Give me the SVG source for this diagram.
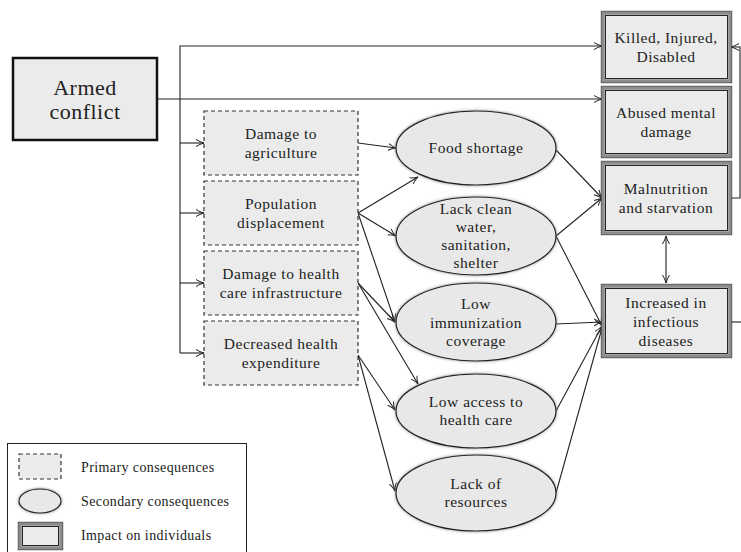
<svg xmlns="http://www.w3.org/2000/svg" width="741" height="552" viewBox="0 0 741 552" font-family="'Liberation Serif', 'DejaVu Serif', serif">
<defs>
<marker id="arr" markerUnits="userSpaceOnUse" markerWidth="10" markerHeight="10" refX="8" refY="4" orient="auto-start-reverse" viewBox="0 0 10 8">
<path d="M0,0.5 Q4,3 8,4 Q4,5 0,7.5" fill="none" stroke="#222" stroke-width="1"/>
</marker>
<filter id="shadow" x="-20%" y="-20%" width="140%" height="140%">
<feDropShadow dx="0" dy="0" stdDeviation="1.8" flood-color="#777" flood-opacity="0.9"/>
</filter>
<style>
text{font-family:"Liberation Serif","DejaVu Serif",serif;fill:#222;text-anchor:middle;font-size:15.5px;letter-spacing:0.5px}
.prim{fill:#ebebeb;stroke:#333;stroke-width:1.2;stroke-dasharray:4 3}
.sec{fill:#e8e8e8;stroke:#222;stroke-width:1.2;filter:url(#shadow)}
.imp-o{fill:#ebebeb;stroke:#8c8c8c;stroke-width:3.5}
.imp-e{fill:none;stroke:#444;stroke-width:0.8}
.imp-i{fill:none;stroke:#111;stroke-width:0.9}
.c{fill:none;stroke:#222;stroke-width:1.1}
.a{marker-end:url(#arr)}
.leg{text-anchor:start;font-size:14px;letter-spacing:0.4px}
</style>
</defs>
<rect width="741" height="552" fill="#fff"/>

<g id="connectors">
<polyline class="c a" points="180,353 180,46 602,46"/>
<polyline class="c a" points="157,99 602,99"/>
<line class="c a" x1="180" y1="143" x2="204" y2="143"/>
<line class="c a" x1="180" y1="213" x2="204" y2="213"/>
<line class="c a" x1="180" y1="283" x2="204" y2="283"/>
<line class="c a" x1="180" y1="353" x2="204" y2="353"/>
<line class="c a" x1="358" y1="143" x2="396" y2="148"/>
<line class="c a" x1="358" y1="213" x2="418" y2="177"/>
<line class="c a" x1="358" y1="213" x2="396" y2="236"/>
<line class="c a" x1="358" y1="213" x2="395" y2="322"/>
<line class="c a" x1="358" y1="283" x2="395" y2="322"/>
<line class="c a" x1="358" y1="283" x2="418" y2="384"/>
<line class="c a" x1="358" y1="355" x2="395" y2="410"/>
<line class="c a" x1="358" y1="355" x2="395" y2="491"/>
<line class="c a" x1="556" y1="150" x2="602" y2="198"/>
<line class="c a" x1="556" y1="236" x2="602" y2="198"/>
<line class="c a" x1="556" y1="236" x2="602" y2="326"/>
<line class="c a" x1="556" y1="324" x2="602" y2="322"/>
<line class="c a" x1="556" y1="411" x2="602" y2="326"/>
<line class="c a" x1="556" y1="493" x2="602" y2="328"/>
<line class="c a" x1="666" y1="236" x2="666" y2="283" marker-start="url(#arr)"/>
<polyline class="c a" points="731,198 740,198 740,47 731,47"/>
<line class="c" x1="731" y1="322" x2="741" y2="322"/>
</g>

<g id="armed">
<rect x="13" y="58" width="144" height="82" fill="#ebebeb" stroke="#111" stroke-width="2.5"/>
<text x="85" y="95" style="font-size:22px">Armed</text>
<text x="85" y="119" style="font-size:22px">conflict</text>
</g>

<g id="p1"><rect class="prim" x="204" y="111" width="154" height="64"/>
<text x="281" y="138.5">Damage to</text><text x="281" y="157.5">agriculture</text></g>
<g id="p2"><rect class="prim" x="204" y="181" width="154" height="64"/>
<text x="281" y="208.5">Population</text><text x="281" y="227.5">displacement</text></g>
<g id="p3"><rect class="prim" x="204" y="251" width="154" height="64"/>
<text x="281" y="278.5">Damage to health</text><text x="281" y="297.5">care infrastructure</text></g>
<g id="p4"><rect class="prim" x="204" y="321" width="154" height="64"/>
<text x="281" y="348.5">Decreased health</text><text x="281" y="367.5">expenditure</text></g>

<g id="s1"><ellipse class="sec" cx="476" cy="148" rx="80" ry="37"/>
<text x="476" y="153">Food shortage</text></g>
<g id="s2"><ellipse class="sec" cx="476" cy="236" rx="80" ry="39"/>
<text x="476" y="214">Lack clean</text><text x="476" y="232">water,</text><text x="476" y="250">sanitation,</text><text x="476" y="268">shelter</text></g>
<g id="s3"><ellipse class="sec" cx="476" cy="322" rx="80" ry="39"/>
<text x="476" y="309">Low</text><text x="476" y="327.5">immunization</text><text x="476" y="346">coverage</text></g>
<g id="s4"><ellipse class="sec" cx="476" cy="411" rx="80" ry="37"/>
<text x="476" y="407">Low access to</text><text x="476" y="425">health care</text></g>
<g id="s5"><ellipse class="sec" cx="476" cy="493" rx="80" ry="38"/>
<text x="476" y="489">Lack of</text><text x="476" y="507">resources</text></g>

<g id="i1"><rect class="imp-o" x="603" y="13" width="127" height="68"/><rect class="imp-e" x="601.2" y="11.2" width="130.6" height="71.6"/><rect class="imp-i" x="605.5" y="15.5" width="122" height="63"/>
<text x="666" y="42.5">Killed, Injured,</text><text x="666" y="61.5">Disabled</text></g>
<g id="i2"><rect class="imp-o" x="603" y="88" width="127" height="68"/><rect class="imp-e" x="601.2" y="86.2" width="130.6" height="71.6"/><rect class="imp-i" x="605.5" y="90.5" width="122" height="63"/>
<text x="666" y="117.5">Abused mental</text><text x="666" y="136.5">damage</text></g>
<g id="i3"><rect class="imp-o" x="603" y="163" width="127" height="70"/><rect class="imp-e" x="601.2" y="161.2" width="130.6" height="73.6"/><rect class="imp-i" x="605.5" y="165.5" width="122" height="65"/>
<text x="666" y="193.5">Malnutrition</text><text x="666" y="212.5">and starvation</text></g>
<g id="i4"><rect class="imp-o" x="603" y="286" width="127" height="70"/><rect class="imp-e" x="601.2" y="284.2" width="130.6" height="73.6"/><rect class="imp-i" x="605.5" y="288.5" width="122" height="65"/>
<text x="666" y="307.5">Increased in</text><text x="666" y="326.5">infectious</text><text x="666" y="345.5">diseases</text></g>

<g id="legend">
<rect x="7.5" y="443.5" width="239" height="120" fill="#fff" stroke="#222" stroke-width="1"/>
<rect class="prim" x="19" y="454" width="42" height="25"/>
<ellipse class="sec" cx="40" cy="501" rx="21" ry="12"/>
<rect class="imp-o" x="20" y="524" width="41" height="24"/><rect class="imp-e" x="18.2" y="522.2" width="44.6" height="27.6"/><rect class="imp-i" x="22.5" y="526.5" width="36" height="19"/>
<text class="leg" x="81" y="472">Primary consequences</text>
<text class="leg" x="81" y="506">Secondary consequences</text>
<text class="leg" x="81" y="540">Impact on individuals</text>
</g>
</svg>
